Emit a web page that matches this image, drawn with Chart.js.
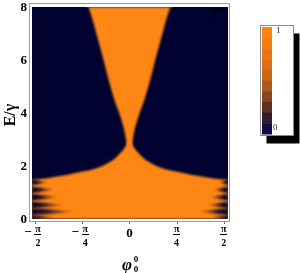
<!DOCTYPE html>
<html>
<head>
<meta charset="utf-8">
<script src="https://cdn.jsdelivr.net/npm/chart.js@4.4.0/dist/chart.umd.min.js"></script>
<style>
  html, body { margin: 0; padding: 0; background: #fff; }
</style>
</head>
<body>
<canvas id="chart" width="300" height="273"></canvas>
<script>
// --- data ---
const phiTicks = [-Math.PI / 2, -Math.PI / 4, 0, Math.PI / 4, Math.PI / 2];
const phiTickLabels = [['−', 'π', '2'], ['−', 'π', '4'], ['0'], ['', 'π', '4'], ['', 'π', '2']];
const eTicks = [0, 2, 4, 6, 8];

// lower lobe: top edge of the bright region (E/γ) against φ
const lowPhi = [-1.62, -1.4, -1.2, -1.0, -0.8, -0.6, -0.45, -0.35, -0.26, -0.18, -0.1, -0.05, 0,
                0.05, 0.1, 0.18, 0.26, 0.35, 0.45, 0.6, 0.8, 1.0, 1.2, 1.4, 1.64];
const lowTop = [1.48, 1.53, 1.6, 1.68, 1.78, 1.88, 2.0, 2.12, 2.25, 2.42, 2.62, 2.8, 3.0,
                2.8, 2.62, 2.42, 2.25, 2.12, 2.0, 1.88, 1.78, 1.68, 1.6, 1.53, 1.48];

// upper cone: side edge of the bright region (E/γ) against φ
const conePhi = [-0.72, -0.68, -0.61, -0.55, -0.49, -0.43, -0.375, -0.315, -0.25, -0.17, -0.115, -0.08, -0.058, -0.045, 0,
                 0.045, 0.058, 0.08, 0.115, 0.17, 0.25, 0.315, 0.375, 0.43, 0.49, 0.55, 0.61, 0.68, 0.72];
const coneEdge = [8.3, 8.0, 7.5, 7.0, 6.5, 6.0, 5.5, 5.0, 4.5, 4.0, 3.6, 3.3, 3.0, 2.85, 2.6,
                  2.85, 3.0, 3.3, 3.6, 4.0, 4.5, 5.0, 5.5, 6.0, 6.5, 7.0, 7.5, 8.0, 8.3];

// dark bands entering from the sides at low energy
const stripeE = [1.38, 1.1, 0.82, 0.53, 0.28, 0.06];
const stripeHalf = [0.1, 0.12, 0.12, 0.12, 0.13, 0.07];
const stripeDepthL = [0.28, 0.38, 0.45, 0.55, 0.75, 0.4];
const stripeDepthR = [0.15, 0.25, 0.3, 0.35, 0.5, 0.3];

const colorbarSteps = ['#ff8212', '#f47b12', '#e97514', '#dc6e15', '#c96516',
                       '#b05a1a', '#8a471f', '#5e3024', '#35192d', '#0c0b45'];
const colorbarLabels = ['1', '0'];

const X_MIN = -1.62, X_MAX = 1.64;
const ORANGE = '#fe8614';
const NAVY = '#020230';
const SERIF = '"Liberation Serif", "DejaVu Serif", serif';

function edgeFade(fromPhi, toPhi) {
  return (context) => {
    const chart = context.chart;
    const xs = chart.scales.x;
    if (!xs || !chart.chartArea) return 'rgba(2,2,48,0.8)';
    const g = chart.ctx.createLinearGradient(xs.getPixelForValue(fromPhi), 0, xs.getPixelForValue(toPhi), 0);
    g.addColorStop(0, 'rgba(2,2,48,1)');
    g.addColorStop(0.3, 'rgba(2,2,48,0.85)');
    g.addColorStop(0.7, 'rgba(2,2,48,0.35)');
    g.addColorStop(1, 'rgba(2,2,48,0)');
    return g;
  };
}

const datasets = [];
stripeE.forEach((c, i) => {
  const h = stripeHalf[i];
  const dl = stripeDepthL[i], dr = stripeDepthR[i];
  const tipL = X_MIN + dl, tipR = X_MAX - dr;
  datasets.push({
    data: [{ x: X_MIN, y: c + h }, { x: X_MIN + dl * 0.4, y: c + h * 0.7 }, { x: tipL, y: c }],
    fill: '+1', backgroundColor: edgeFade(X_MIN, tipL), cubicInterpolationMode: 'monotone', order: 0
  });
  datasets.push({
    data: [{ x: X_MIN, y: c - h }, { x: X_MIN + dl * 0.4, y: c - h * 0.7 }, { x: tipL, y: c }],
    fill: false, cubicInterpolationMode: 'monotone', order: 0
  });
  datasets.push({
    data: [{ x: tipR, y: c }, { x: X_MAX - dr * 0.4, y: c + h * 0.7 }, { x: X_MAX, y: c + h }],
    fill: '+1', backgroundColor: edgeFade(X_MAX, tipR), cubicInterpolationMode: 'monotone', order: 0
  });
  datasets.push({
    data: [{ x: tipR, y: c }, { x: X_MAX - dr * 0.4, y: c - h * 0.7 }, { x: X_MAX, y: c - h }],
    fill: false, cubicInterpolationMode: 'monotone', order: 0
  });
});
datasets.push({
  data: conePhi.map((p, i) => ({ x: p, y: coneEdge[i] })),
  fill: 'end', backgroundColor: ORANGE, cubicInterpolationMode: 'monotone', order: 1
});
datasets.push({
  data: lowPhi.map((p, i) => ({ x: p, y: lowTop[i] })),
  fill: 'start', backgroundColor: ORANGE, cubicInterpolationMode: 'monotone', order: 2
});

const backdrop = {
  id: 'backdrop',
  beforeDatasetsDraw(chart) {
    const { ctx, chartArea: a } = chart;
    ctx.fillStyle = NAVY;
    ctx.fillRect(a.left, a.top, a.right - a.left, a.bottom - a.top);
    ctx.save();
    ctx.filter = 'blur(0.9px)';
  },
  afterDatasetsDraw(chart) {
    chart.ctx.restore();
  }
};

const decor = {
  id: 'decor',
  afterDraw(chart) {
    const { ctx, chartArea: a, scales: { x, y } } = chart;
    ctx.save();
    ctx.filter = 'none';
    // frame
    ctx.strokeStyle = '#9c9c9c';
    ctx.lineWidth = 1;
    ctx.strokeRect(a.left - 2.5, a.top - 3.5, a.right - a.left + 4, a.bottom - a.top + 6);
    const fb = a.bottom + 2.5;
    ctx.strokeStyle = '#777';
    phiTicks.forEach(v => {
      const px = Math.round(x.getPixelForValue(v)) + 0.5;
      ctx.beginPath(); ctx.moveTo(px, fb); ctx.lineTo(px, fb + 2.5); ctx.stroke();
    });

    // y tick labels
    ctx.fillStyle = '#000';
    ctx.font = 'bold 13px ' + SERIF;
    ctx.textAlign = 'right';
    ctx.textBaseline = 'middle';
    eTicks.forEach(v => ctx.fillText(String(v), 27, y.getPixelForValue(v) + 0.5));

    // x tick labels (fractions)
    ctx.textAlign = 'center';
    phiTicks.forEach((v, i) => {
      const px = x.getPixelForValue(v);
      const lab = phiTickLabels[i];
      if (lab.length === 1) {
        ctx.font = 'bold 13px ' + SERIF;
        ctx.fillText(lab[0], px, 234);
        return;
      }
      let fx = px;
      if (lab[0]) {
        fx = px + 3;
        ctx.font = 'bold 13px ' + SERIF;
        ctx.fillText(lab[0], px - 7, 233);
      }
      ctx.font = 'bold 10px ' + SERIF;
      ctx.fillText(lab[1], fx, 229.5);
      ctx.fillText(lab[2], fx, 243.5);
      ctx.fillRect(Math.round(fx - 3.5), 234, 7, 1);
    });

    // axis titles
    ctx.font = 'bold italic 17px ' + SERIF;
    ctx.textBaseline = 'alphabetic';
    ctx.fillText('φ', 127, 270);
    ctx.font = 'bold 9px ' + SERIF;
    ctx.textBaseline = 'middle';
    ctx.fillText('0', 136, 260);
    ctx.fillText('0', 136, 270);

    ctx.save();
    ctx.translate(11, 115);
    ctx.rotate(-Math.PI / 2);
    ctx.font = 'bold 16px ' + SERIF;
    ctx.fillText('E/γ', 0, 0);
    ctx.restore();

    // panel tag
    ctx.textAlign = 'left';
    ctx.textBaseline = 'alphabetic';
    ctx.font = 'bold 10px ' + SERIF;
    ctx.fillText('T', 212, 17);
    ctx.font = 'bold 7px ' + SERIF;
    ctx.fillText('0', 218, 12);

    // colour legend
    const bx = 260.5, by = 25.5, bw = 33, bh = 110;
    ctx.fillStyle = '#000';
    ctx.fillRect(bx + 6, by + 8, bw, bh);
    ctx.fillStyle = '#fff';
    ctx.fillRect(bx, by, bw, bh);
    ctx.strokeStyle = '#8a8a8a';
    ctx.strokeRect(bx, by, bw, bh);
    const sh = 107 / colorbarSteps.length;
    colorbarSteps.forEach((c, i) => {
      ctx.fillStyle = c;
      ctx.fillRect(262, 27 + i * sh, 10, sh + 0.5);
    });
    ctx.fillStyle = '#222';
    ctx.font = '9px ' + SERIF;
    ctx.textBaseline = 'middle';
    ctx.fillText(colorbarLabels[0], 276, 31);
    ctx.fillText(colorbarLabels[1], 273, 128);
    ctx.restore();
  }
};

new Chart(document.getElementById('chart').getContext('2d'), {
  type: 'line',
  data: { datasets },
  options: {
    responsive: false,
    animation: false,
    layout: { padding: { left: 32, top: 7, right: 72, bottom: 54 } },
    scales: {
      x: { type: 'linear', min: X_MIN, max: X_MAX, display: false },
      y: { type: 'linear', min: 0, max: 8, display: false }
    },
    elements: { point: { radius: 0 }, line: { borderWidth: 0 } },
    plugins: { legend: { display: false }, tooltip: { enabled: false } }
  },
  plugins: [backdrop, decor]
});
</script>
</body>
</html>
